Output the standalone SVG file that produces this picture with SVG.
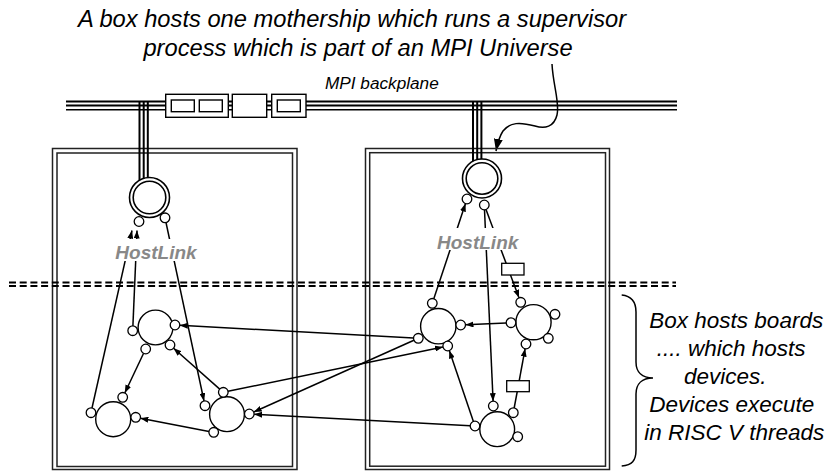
<svg xmlns="http://www.w3.org/2000/svg" width="834" height="471" viewBox="0 0 834 471">
<style>
  .frame{fill:none;stroke:#222;stroke-width:1.5}
  .bp{stroke:#000;stroke-width:2}
  .drop{stroke:#000;stroke-width:2}
  .bx{fill:#fff;stroke:#000;stroke-width:1.4}
  .ms{fill:#fff;stroke:#000;stroke-width:1.6}
  .dev{fill:#fff;stroke:#000;stroke-width:1.4}
  .port{fill:#fff;stroke:#000;stroke-width:1.3}
  .ch{fill:#fff;stroke:#000;stroke-width:1.3}
  .edge{fill:none;stroke:#000;stroke-width:1.5;marker-end:url(#ah)}
  .dash{fill:none;stroke:#000;stroke-width:1.8;stroke-dasharray:7 3.7}
  .note{font-family:"Liberation Sans",Arial,sans-serif;font-style:italic;fill:#000}
  .hl{font-family:"Liberation Sans",Arial,sans-serif;font-style:italic;font-weight:bold;font-size:19px;fill:#888;text-anchor:middle}
</style>
<defs>
  <marker id="ah" viewBox="0 0 8 6" refX="8" refY="3" markerWidth="8" markerHeight="6" markerUnits="userSpaceOnUse" orient="auto">
    <path d="M0,0L8,3L0,6z" fill="#000"/>
  </marker>
  <marker id="ahBig" viewBox="0 0 12 9" refX="12" refY="4.5" markerWidth="12" markerHeight="9" markerUnits="userSpaceOnUse" orient="auto">
    <path d="M0,0L12,4.5L0,9z" fill="#000"/>
  </marker>
</defs>
<rect width="834" height="471" fill="#fff"/>

<!-- top annotation -->
<g id="annotation-top" class="note" font-size="23.7" text-anchor="middle">
  <text x="352" y="27">A box hosts one mothership which runs a supervisor</text>
  <text x="358" y="56">process which is part of an MPI Universe</text>
</g>
<path d="M552,64 C553,85 560,103 557,115 C554,127 545,129 535,126 C520,122 510,122 503,131 C499,137 497,146 496,151" fill="none" stroke="#000" stroke-width="1.5" marker-end="url(#ahBig)"/>

<!-- boxes (frames) -->
<g id="box-left">
  <rect class="frame" x="52.5" y="148.5" width="244.5" height="321"/>
  <rect class="frame" x="57" y="153" width="235.5" height="313.5"/>
</g>
<g id="box-right">
  <rect class="frame" x="365.5" y="148.5" width="244" height="321"/>
  <rect class="frame" x="369.7" y="152.7" width="235.8" height="313.5"/>
</g>

<!-- MPI backplane -->
<g id="backplane">
  <line class="bp" x1="66" y1="101.5" x2="677" y2="101.5" style="stroke-width:2.2"/>
  <line class="bp" x1="66" y1="105.6" x2="677" y2="105.6"/>
  <line class="bp" x1="66" y1="109.8" x2="677" y2="109.8" style="stroke-width:1.5"/>
  <rect class="bx" x="165.7" y="94.3" width="62.6" height="23"/>
  <rect class="bx" x="171.3" y="100" width="23" height="11.7"/>
  <rect class="bx" x="199.3" y="100" width="23" height="11.7"/>
  <rect class="bx" x="232.3" y="94.3" width="34.4" height="23"/>
  <rect class="bx" x="271.7" y="94.3" width="34.3" height="23"/>
  <rect class="bx" x="277.3" y="100" width="23" height="11.7"/>
  <text class="note" x="325" y="89" font-size="17.2">MPI backplane</text>
</g>
<g id="backplane-drops">
  <line class="drop" x1="139.5" y1="102" x2="139.5" y2="181"/>
  <line class="drop" x1="143.7" y1="102" x2="143.7" y2="179"/>
  <line class="drop" x1="147.8" y1="102" x2="147.8" y2="178"/>
  <line class="drop" x1="473" y1="102" x2="473" y2="162"/>
  <line class="drop" x1="477.2" y1="102" x2="477.2" y2="160"/>
  <line class="drop" x1="481.4" y1="102" x2="481.4" y2="159"/>
</g>

<!-- dashed boundary -->
<g id="boundary">
  <line class="dash" x1="9" y1="282.5" x2="676" y2="282.5"/>
  <line class="dash" x1="9" y1="286" x2="676" y2="286"/>
</g>

<!-- connectors -->
<g id="connectors">
  <line class="edge" x1="166" y1="222.5" x2="204" y2="401"/>
  <line class="edge" x1="132.9" y1="325.9" x2="137" y2="230.5"/>
  <line class="edge" x1="92" y1="408" x2="132" y2="230.5"/>
  <line class="edge" x1="143.6" y1="353.3" x2="124.8" y2="393"/>
  <line class="edge" x1="219.7" y1="389.1" x2="173.6" y2="348.2"/>
  <line class="edge" x1="209" y1="431.4" x2="140.4" y2="418.2"/>
  <line class="edge" x1="413.5" y1="338" x2="179.8" y2="325.3"/>
  <line class="edge" x1="413.9" y1="340.3" x2="253.7" y2="412"/>
  <line class="edge" x1="228" y1="391.3" x2="443" y2="347"/>
  <line class="edge" x1="470.2" y1="425.7" x2="254.1" y2="414.3"/>
  <line class="edge" x1="506.2" y1="322.9" x2="465.5" y2="324.8"/>
  <line class="edge" x1="514.2" y1="408" x2="525.1" y2="348.7"/>
  <line class="edge" x1="473.4" y1="421.5" x2="449.3" y2="350.5"/>
  <line class="edge" x1="484.5" y1="209.8" x2="493.1" y2="401.2"/>
  <line class="edge" x1="486" y1="209.5" x2="519" y2="297.8"/>
  <line class="edge" x1="433.8" y1="298.7" x2="465.5" y2="203.6"/>
  <rect class="ch" x="501.7" y="263.3" width="22.3" height="11.7"/>
  <rect class="ch" x="506.7" y="380.7" width="22.6" height="11"/>
</g>

<!-- HostLink labels -->
<g id="hostlink-left">
  <rect x="112" y="239" width="90" height="22" fill="#fff"/>
  <text class="hl" x="156" y="259">HostLink</text>
</g>
<g id="hostlink-right">
  <rect x="433" y="228" width="90" height="22" fill="#fff"/>
  <text class="hl" x="477.7" y="249">HostLink</text>
</g>

<!-- motherships -->
<g id="mothership-left">
  <circle class="ms" cx="149.5" cy="197.5" r="20"/>
  <circle class="ms" cx="149.5" cy="197.5" r="16.3"/>
  <circle class="port" cx="139" cy="221.5" r="4.8"/>
  <circle class="port" cx="165" cy="217.8" r="4.8"/>
</g>
<g id="mothership-right">
  <circle class="ms" cx="482" cy="178.5" r="19.5"/>
  <circle class="ms" cx="482" cy="178.5" r="15.8"/>
  <circle class="port" cx="467" cy="199" r="4.8"/>
  <circle class="port" cx="484.3" cy="205" r="4.8"/>
</g>

<!-- devices left box -->
<g id="device-l-upper">
  <circle class="dev" cx="155.5" cy="327.5" r="17.4"/>
  <circle class="port" cx="132.7" cy="330.7" r="4.8"/>
  <circle class="port" cx="175" cy="325" r="4.8"/>
  <circle class="port" cx="145.7" cy="349" r="4.8"/>
  <circle class="port" cx="170" cy="345" r="4.8"/>
</g>
<g id="device-l-lowerleft">
  <circle class="dev" cx="113.2" cy="419.2" r="17.5"/>
  <circle class="port" cx="91" cy="412.7" r="4.8"/>
  <circle class="port" cx="122.7" cy="397.3" r="4.8"/>
  <circle class="port" cx="135.7" cy="417.3" r="4.8"/>
</g>
<g id="device-l-lowerright">
  <circle class="dev" cx="227" cy="414.2" r="17.4"/>
  <circle class="port" cx="205" cy="405.7" r="4.8"/>
  <circle class="port" cx="223.3" cy="392.3" r="4.8"/>
  <circle class="port" cx="249.3" cy="414" r="4.8"/>
  <circle class="port" cx="213.7" cy="432.3" r="4.8"/>
</g>

<!-- devices right box -->
<g id="device-r-upperleft">
  <circle class="dev" cx="438.3" cy="326.2" r="17.7"/>
  <circle class="port" cx="432.3" cy="303.3" r="4.8"/>
  <circle class="port" cx="460.7" cy="325" r="4.8"/>
  <circle class="port" cx="418.3" cy="338.3" r="4.8"/>
  <circle class="port" cx="447.7" cy="346" r="4.8"/>
</g>
<g id="device-r-upperright">
  <circle class="dev" cx="533.5" cy="322.2" r="17.6"/>
  <circle class="port" cx="520.7" cy="302.3" r="4.8"/>
  <circle class="port" cx="511" cy="322.7" r="4.8"/>
  <circle class="port" cx="555" cy="314.3" r="4.8"/>
  <circle class="port" cx="548.3" cy="338.3" r="4.8"/>
  <circle class="port" cx="526" cy="344" r="4.8"/>
</g>
<g id="device-r-lower">
  <circle class="dev" cx="497.2" cy="429.2" r="17.4"/>
  <circle class="port" cx="493.3" cy="406" r="4.8"/>
  <circle class="port" cx="513.3" cy="412.7" r="4.8"/>
  <circle class="port" cx="475" cy="426" r="4.8"/>
  <circle class="port" cx="517.7" cy="436.7" r="4.8"/>
</g>

<!-- right annotation -->
<g id="annotation-right">
  <path d="M621.7,295 C632,296 636,302 636,312 L636,362 C636,372 642,378 653,378 C642,378 636,384 636,394 L636,450 C636,461 632,465 621.7,466" fill="none" stroke="#000" stroke-width="1.5"/>
  <g class="note" font-size="22.5">
    <text x="649.3" y="328">Box hosts boards</text>
    <text x="656.7" y="356">.... which hosts</text>
    <text x="684" y="384">devices.</text>
    <text x="649.3" y="412">Devices execute</text>
    <text x="644.3" y="440">in RISC V threads</text>
  </g>
</g>
</svg>
